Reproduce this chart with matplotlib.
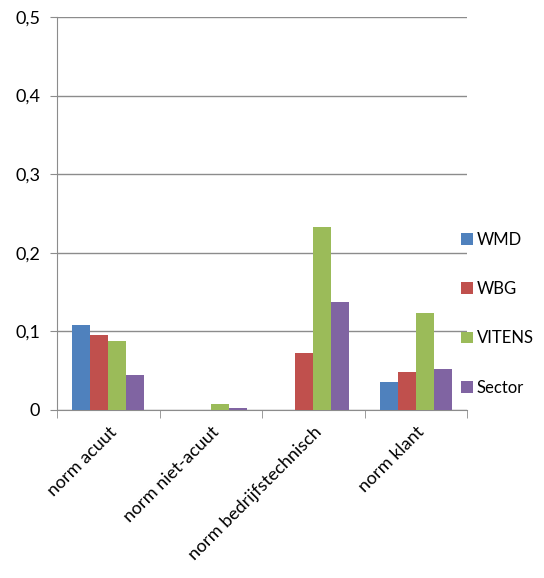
import numpy as np
import matplotlib.pyplot as plt

categories = ['norm acuut', 'norm niet-acuut', 'norm bedrijfstechnisch', 'norm klant']
wmd = [0.108, 0.0, 0.0, 0.035]
wbg = [0.096, 0.0, 0.072, 0.048]
vitens = [0.088, 0.007, 0.233, 0.124]
sector = [0.044, 0.003, 0.137, 0.052]

series = [('WMD', wmd, '#4F81BD'), ('WBG', wbg, '#C0504D'),
          ('VITENS', vitens, '#9BBB59'), ('Sector', sector, '#8064A2')]

plt.rcParams['font.family'] = ['Lato', 'DejaVu Sans']

fig = plt.figure(figsize=(5.44, 5.78), dpi=100)
ax = fig.add_axes([57 / 544, 1 - 410 / 578, 410 / 544, 393 / 578])

x = np.arange(len(categories))
w = 0.175
for i, (name, vals, col) in enumerate(series):
    ax.bar(x + (i - 1.5) * w, vals, w, color=col, label=name, zorder=3)

ax.set_xlim(-0.5, 3.5)
ax.set_ylim(0, 0.5)
ax.set_yticks([0, 0.1, 0.2, 0.3, 0.4, 0.5])
ax.set_yticklabels(['0', '0,1', '0,2', '0,3', '0,4', '0,5'], fontsize=13)
ax.yaxis.grid(True, color='#8c8c8c', linewidth=1, zorder=0)

ax.set_xticks(x)
ax.set_xticklabels(categories, rotation=45, ha='right', rotation_mode='anchor', fontsize=13)
ax.set_xticks(np.arange(-0.5, 4, 1), minor=True)
ax.tick_params(axis='x', which='major', length=0, pad=10)
ax.tick_params(axis='x', which='minor', length=6, color='#8c8c8c')
ax.tick_params(axis='y', length=5, color='#8c8c8c', pad=7)

for s in ['top', 'right']:
    ax.spines[s].set_visible(False)
for s in ['left', 'bottom']:
    ax.spines[s].set_color('#8c8c8c')

ax.legend(loc='center left', bbox_to_anchor=(0.985, 0.245), frameon=False,
          fontsize=12, labelspacing=2.0, handlelength=0.7, handleheight=0.7,
          handletextpad=0.25, borderaxespad=0, borderpad=0)

fig.savefig('out.png', dpi=100)
